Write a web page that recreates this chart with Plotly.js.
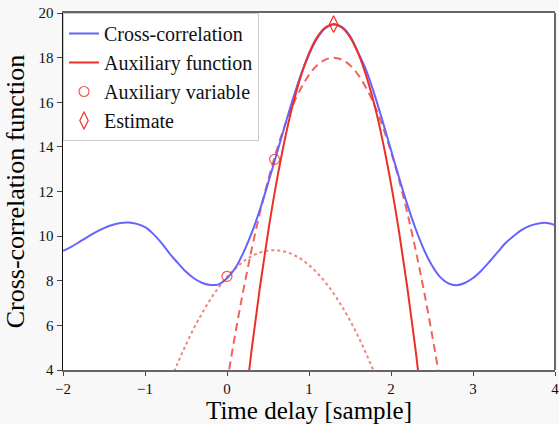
<!DOCTYPE html>
<html>
<head>
<meta charset="utf-8">
<script src="https://cdn.plot.ly/plotly-3.0.1.min.js"></script>
<style>
  html, body { margin: 0; padding: 0; background: #f8f8f8; }
  #chart { width: 559px; height: 424px; }
</style>
</head>
<body>
<div id="chart"></div>
<script>
// Cross-correlation function
const delay = [-2.0,-1.9,-1.8,-1.7,-1.6,-1.5,-1.4,-1.3,-1.2,-1.1,-1.0,-0.9,-0.8,-0.7,-0.6,-0.5,-0.4,-0.3,-0.2,-0.1,
  0.0,0.1,0.2,0.3,0.4,0.5,0.6,0.7,0.8,0.9,1.0,1.1,1.2,1.3,1.4,1.5,1.6,1.7,1.8,1.9,
  2.0,2.1,2.2,2.3,2.4,2.5,2.6,2.7,2.8,2.9,3.0,3.1,3.2,3.3,3.4,3.5,3.6,3.7,3.8,3.9,4.0];
const xcorr = [9.34,9.52,9.74,9.97,10.18,10.36,10.50,10.59,10.61,10.55,10.40,10.10,9.70,9.22,8.80,8.40,8.10,7.90,7.81,7.84,
  8.11,8.56,9.26,10.13,11.17,12.36,13.61,14.88,16.10,17.22,18.14,18.87,19.32,19.50,19.38,18.97,18.22,17.41,16.33,15.12,
  13.86,12.60,11.40,10.33,9.41,8.68,8.16,7.88,7.80,7.90,8.12,8.45,8.85,9.28,9.70,10.02,10.29,10.47,10.57,10.59,10.50];

// Auxiliary function (final, solid)
const auxFinalX = [0.2,0.3,0.4,0.5,0.6,0.7,0.8,0.9,1.0,1.1,1.2,1.3,1.4,1.5,1.6,1.7,1.8,1.9,2.0,2.1,2.2,2.3,2.4];
const auxFinalY = [1.82,4.89,7.67,10.15,12.34,14.24,15.85,17.16,18.19,18.92,19.35,19.50,19.35,18.92,18.19,17.16,15.85,14.24,12.34,10.15,7.67,4.89,1.82];

// Auxiliary function (second iteration, dashed)
const auxMidX = [0.0,0.1,0.2,0.3,0.4,0.5,0.6,0.7,0.8,0.9,1.0,1.1,1.2,1.3,1.4,1.5,1.6,1.7,1.8,1.9,2.0,2.1,2.2,2.3,2.4,2.5,2.6];
const auxMidY = [3.45,5.60,7.58,9.39,11.03,12.49,13.78,14.90,15.85,16.62,17.23,17.66,17.91,18.00,17.91,17.66,17.23,16.62,15.85,14.90,13.78,12.49,11.03,9.39,7.58,5.60,3.45];

// Auxiliary function (first iteration, dotted)
const auxFirstX = [-0.7,-0.6,-0.5,-0.4,-0.3,-0.2,-0.1,0.0,0.1,0.2,0.3,0.4,0.5,0.6,0.7,0.8,0.9,1.0,1.1,1.2,1.3,1.4,1.5,1.6,1.7,1.8,1.9];
const auxFirstY = [3.42,4.32,5.14,5.90,6.57,7.18,7.71,8.17,8.55,8.86,9.10,9.26,9.35,9.37,9.31,9.18,8.98,8.70,8.35,7.93,7.43,6.86,6.22,5.50,4.71,3.84,2.91];

// Auxiliary variables and estimate
const auxVarX = [0.0, 0.58];
const auxVarY = [8.2, 13.44];
const estX = [1.3];
const estY = [19.5];

const xTicks = [-2,-1,0,1,2,3,4];
const yTicks = [4,6,8,10,12,14,16,18,20];

const red = 'rgb(236,48,38)';
const serif = 'Liberation Serif';

const traces = [
  {x: auxFirstX, y: auxFirstY, mode: 'lines', showlegend: false,
   line: {color: 'rgba(236,48,38,0.6)', width: 2, dash: 'dot', shape: 'spline'}},
  {x: auxMidX, y: auxMidY, mode: 'lines', showlegend: false,
   line: {color: 'rgba(236,48,38,0.75)', width: 2, dash: '8px,5px', shape: 'spline'}},
  {x: delay, y: xcorr, mode: 'lines', name: 'Cross-correlation',
   line: {color: 'rgb(100,100,255)', width: 2, shape: 'spline'}},
  {x: auxFinalX, y: auxFinalY, mode: 'lines', name: 'Auxiliary function',
   line: {color: red, width: 2, shape: 'spline'}},
  {x: auxVarX, y: auxVarY, mode: 'markers', name: 'Auxiliary variable',
   marker: {symbol: 'circle-open', size: 10, color: 'rgba(236,48,38,0.8)', line: {width: 1.2}}},
  {x: estX, y: estY, mode: 'markers', name: 'Estimate',
   marker: {symbol: 'diamond-tall-open', size: 12, color: red, line: {width: 1.2}}}
];

const layout = {
  width: 559, height: 424,
  paper_bgcolor: '#f8f8f8',
  plot_bgcolor: '#ffffff',
  margin: {l: 63, r: 4, t: 13, b: 54},
  font: {family: serif, color: '#111', size: 15},
  xaxis: {
    range: [-2, 4], tickvals: xTicks, ticks: 'outside', ticklen: 4, tickcolor: '#444',
    ticklabeloverflow: 'allow',
    showgrid: false, zeroline: false, showline: true, linecolor: '#666', linewidth: 2, mirror: true,
    tickfont: {family: serif, size: 15, color: '#111'},
    title: {text: 'Time delay [sample]', font: {family: serif, size: 25, color: '#000'}, standoff: 0}
  },
  yaxis: {
    range: [4, 20], tickvals: yTicks, ticks: 'outside', ticklen: 5, tickcolor: '#444',
    ticklabeloverflow: 'allow',
    showgrid: false, zeroline: false, showline: true, linecolor: '#111', linewidth: 1.5,
    tickfont: {family: serif, size: 15, color: '#111'},
    title: {text: 'Cross-correlation function', font: {family: serif, size: 26, color: '#000'}, standoff: 6}
  },
  shapes: [
    {type: 'line', xref: 'paper', yref: 'paper', x0: 1, x1: 1, y0: 0, y1: 1, line: {color: '#666', width: 2}}
  ],
  legend: {
    x: 0, y: 1, xanchor: 'left', yanchor: 'top',
    bgcolor: 'rgba(255,255,255,0.95)', bordercolor: '#cccccc', borderwidth: 1,
    font: {family: serif, size: 20, color: '#111'},
    tracegroupgap: 0
  },
  showlegend: true
};

Plotly.newPlot('chart', traces, layout, {displayModeBar: false, staticPlot: true});
</script>
</body>
</html>
